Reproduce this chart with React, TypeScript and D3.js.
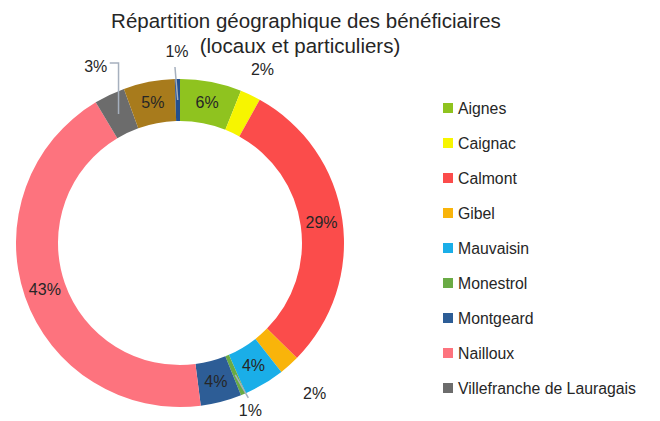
import React, { useRef, useEffect } from "react";
import * as d3 from "d3";

const communes = [
  "Aignes",
  "Caignac",
  "Calmont",
  "Gibel",
  "Mauvaisin",
  "Monestrol",
  "Montgeard",
  "Nailloux",
  "Villefranche de Lauragais",
  "Autres",
  "Non renseigné",
];
const values = [6, 2, 29, 2, 4, 0.5, 4, 43, 3, 5, 0.5];
const colors = [
  "#8fc31f",
  "#f7f500",
  "#fb4c4b",
  "#f9b40a",
  "#1aaee8",
  "#6aab45",
  "#2d5d96",
  "#fd737e",
  "#6c6c6c",
  "#a87b1c",
  "#234f8e",
];
// slices whose label sits outside the ring, with the radius of the label
const outsideLabels: Record<string, number> = {
  "Caignac": 192,
  "Gibel": 202,
  "Monestrol": 182,
  "Villefranche de Lauragais": 196,
  "Non renseigné": 192,
};
const legendCount = 9;

const App = () => {
  const ref = useRef<SVGSVGElement>(null);

  useEffect(() => {
    const svgWidth = 660;
    const svgHeight = 421;
    const cx = 180;
    const cy = 243;
    const outerR = 164;
    const innerR = 122;
    const font = "'Liberation Sans', Arial, sans-serif";
    const textColor = "#262626";

    const svg = d3.select(ref.current)
      .attr("width", svgWidth)
      .attr("height", svgHeight);

    svg.selectAll("*").remove();

    const data = communes.map((name, i) => ({ name, value: values[i], color: colors[i] }));
    const total = d3.sum(values);

    const pie = d3.pie<any>().sort(null).value(d => d.value);
    const arcs = pie(data);

    const arc = d3.arc<any>().innerRadius(innerR).outerRadius(outerR);
    const midR = (innerR + outerR) / 2;
    const pt = (a: number, r: number) => [cx + r * Math.sin(a), cy - r * Math.cos(a)];
    const labelPos = (d: any) => pt((d.startAngle + d.endAngle) / 2, outsideLabels[d.data.name] ?? midR);

    // Title
    const title = svg.append("text")
      .attr("text-anchor", "middle")
      .style("font-family", font)
      .style("font-size", "20.5px")
      .attr("fill", textColor);
    title.append("tspan").attr("x", 306).attr("y", 28).text("Répartition géographique des bénéficiaires");
    title.append("tspan").attr("x", 300).attr("y", 53).text("(locaux et particuliers)");

    // Ring
    svg.append("g")
      .attr("transform", `translate(${cx},${cy})`)
      .selectAll("path")
      .data(arcs)
      .enter()
      .append("path")
      .attr("d", arc)
      .attr("fill", d => d.data.color);

    // Leader lines for the small outside labels
    arcs.forEach(d => {
      const mid = (d.startAngle + d.endAngle) / 2;
      const [x1, y1] = pt(mid, midR);
      const [lx, ly] = labelPos(d);
      let points: number[][] | null = null;
      if (d.data.name === "Villefranche de Lauragais") {
        points = [[lx + 14, ly - 3], [x1, ly - 3], [x1, y1]];
      } else if (d.data.name === "Non renseigné") {
        points = [[lx - 2, ly + 16], [x1, y1]];
      } else if (d.data.name === "Monestrol") {
        points = [[x1, y1], [lx - 2, ly - 13]];
      }
      if (points) {
        svg.append("path")
          .attr("d", d3.line()(points as [number, number][]))
          .attr("fill", "none")
          .attr("stroke", "#a6b0be")
          .attr("stroke-width", 1.5);
      }
    });

    // Percentage labels
    svg.append("g")
      .selectAll("text")
      .data(arcs)
      .enter()
      .append("text")
      .attr("x", d => labelPos(d)[0])
      .attr("y", d => labelPos(d)[1])
      .attr("dy", "0.35em")
      .attr("text-anchor", "middle")
      .style("font-family", font)
      .style("font-size", "16px")
      .attr("fill", textColor)
      .text(d => Math.round((d.data.value / total) * 100) + "%");

    // Legend
    const legend = svg.append("g")
      .selectAll("g")
      .data(data.slice(0, legendCount))
      .enter()
      .append("g")
      .attr("transform", (d, i) => `translate(443, ${108 + i * 35})`);

    legend.append("rect")
      .attr("x", 0)
      .attr("y", -5)
      .attr("width", 10)
      .attr("height", 10)
      .attr("fill", d => d.color);

    legend.append("text")
      .attr("x", 15)
      .attr("y", 0)
      .attr("dy", "0.35em")
      .style("font-family", font)
      .style("font-size", "15.8px")
      .attr("fill", textColor)
      .text(d => d.name);
  }, []);

  return (
    <div style={{ position: "absolute", left: 0, top: 0 }}>
      <svg ref={ref}></svg>
    </div>
  );
};

export default App;
